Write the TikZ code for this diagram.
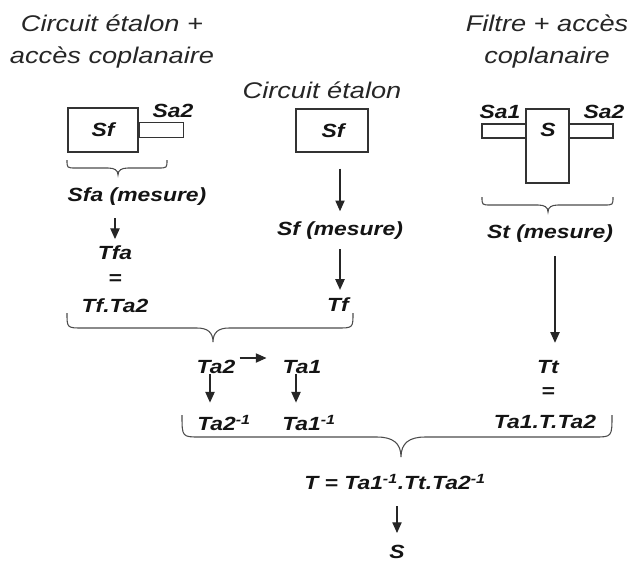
\documentclass[tikz,border=0pt]{standalone}
\usepackage{fontspec}
\setmainfont{Liberation Sans}[FakeStretch=1.2]
\usetikzlibrary{arrows.meta}
\newcommand\wbrace[8]{% x1,x2,xm,ytop,yline,ytip,rend,rmid
  \draw[bracestyle] (#1,#4) .. controls (#1,#5) and (#1,#5) .. (#1+#7,#5) -- (#3-#8,#5)
    .. controls (#3-0.35*#8,#5) and (#3,#5+0.3*#6-0.3*#5) .. (#3,#6)
    .. controls (#3,#5+0.3*#6-0.3*#5) and (#3+0.35*#8,#5) .. (#3+#8,#5)
    -- (#2-#7,#5) .. controls (#2,#5) and (#2,#5) .. (#2,#4);}
\begin{document}
\begin{tikzpicture}[x=0.75pt,y=-0.75pt,
  title/.style={font=\itshape\fontsize{17}{24}\selectfont, inner sep=0pt, align=center, text=black!85},
  lab/.style={font=\bfseries\itshape\fontsize{14.3}{17}\selectfont, inner sep=0pt, text=black!92},
  boxst/.style={draw=black!80, line width=0.8pt, inner sep=0pt},
  arr/.style={draw=black!85, line width=0.8pt, -{Triangle[length=8pt,width=7pt]}},
  bracestyle/.style={draw=black!70, line width=0.8pt}]
\useasboundingbox (0,0) rectangle (627,562);
% titles
\node[title] (t1) at (112,41) {Circuit étalon +\\accès coplanaire};
\node[title] (t2) at (322,90) {Circuit étalon};
\node[title] (t3) at (547,41) {Filtre + accès\\coplanaire};
% left column
\node[boxst, minimum width=52.5pt, minimum height=33pt] (bl) at (103,130) {};
\node[lab] (sfl) at (103,130) {Sf};
\node[boxst, minimum width=33pt, minimum height=11.25pt, anchor=west] (stl) at (bl.east) {};
\node[lab] (sa2l) at (173,111) {Sa2};
\wbrace{67}{167}{118}{160}{168}{175}{9}{10}
\node[lab] (sfa) at (137,197) {Sfa (mesure)};
\node[lab] (tfa) at (115,253) {Tfa};
\node[lab] (eq1) at (115,280) {=};
\node[lab] (tfta2) at (115,306) {Tf.Ta2};
\draw[arr, shorten <=9pt, shorten >=5pt] (sfa.south -| tfa.north) -- (tfa.north);
% middle column
\node[boxst, minimum width=54pt, minimum height=32.25pt] (bm) at (332,130.5) {};
\node[lab] (sfm) at (333,131) {Sf};
\node[lab] (sfmes) at (340,231) {Sf (mesure)};
\node[lab] (tf) at (338,305) {Tf};
\draw[arr, shorten <=12pt, shorten >=8pt] (bm.south -| sfmes.north) -- (sfmes.north);
\draw[arr, shorten <=7pt, shorten >=6pt] (sfmes.south) -- (sfmes.south |- tf.north);
\wbrace{67}{353}{213}{313}{328}{342}{16}{16}
% right column
\node[boxst, minimum width=32.25pt, minimum height=55.5pt] (bs) at (547.5,146) {};
\node[boxst, minimum width=33pt, minimum height=10.5pt] (sa1b) at (504,131) {};
\node[boxst, minimum width=33pt, minimum height=10.5pt] (sa2b) at (591,131) {};
\node[lab] (s) at (548,130) {S};
\node[lab] (sa1) at (500,112) {Sa1};
\node[lab] (sa2r) at (604,112) {Sa2};
\wbrace{482}{613}{548}{197}{205}{212}{9}{10}
\node[lab] (st) at (550,234) {St (mesure)};
\node[lab] (tt) at (548,367) {Tt};
\node[lab] (eq2) at (548,393) {=};
\node[lab] (ta1tta2) at (545,422) {Ta1.T.Ta2};
\draw[arr, shorten <=10pt, shorten >=13pt] ([xshift=3.75pt]st.south) -- ([xshift=3.75pt]st.south |- tt.north);
% Ta row
\node[lab] (ta2) at (216,367) {Ta2};
\node[lab] (ta1) at (302,367) {Ta1};
\node[lab] (ta2i) at (224,423) {Ta2\textsuperscript{-1}};
\node[lab] (ta1i) at (309,423) {Ta1\textsuperscript{-1}};
\draw[arr, shorten <=3pt, shorten >=12pt] ([yshift=6.75pt]ta2.east) -- ([yshift=6.75pt]ta2.east -| ta1.west);
\draw[arr, shorten <=0pt, shorten >=9pt] ([xshift=-4.5pt]ta2.south) -- ([xshift=-4.5pt]ta2.south |- ta2i.north);
\draw[arr, shorten <=0pt, shorten >=9pt] ([xshift=-4.5pt]ta1.south) -- ([xshift=-4.5pt]ta1.south |- ta1i.north);
\wbrace{182}{612}{401}{415}{437}{457}{18}{24}
% bottom
\node[lab] (teq) at (395,482) {T = Ta1\textsuperscript{-1}.Tt.Ta2\textsuperscript{-1}};
\node[lab] (sres) at (397,552) {S};
\draw[arr, shorten <=12pt, shorten >=9pt] ([xshift=1.5pt]teq.south) -- ([xshift=1.5pt]teq.south |- sres.north);
\end{tikzpicture}
\end{document}
